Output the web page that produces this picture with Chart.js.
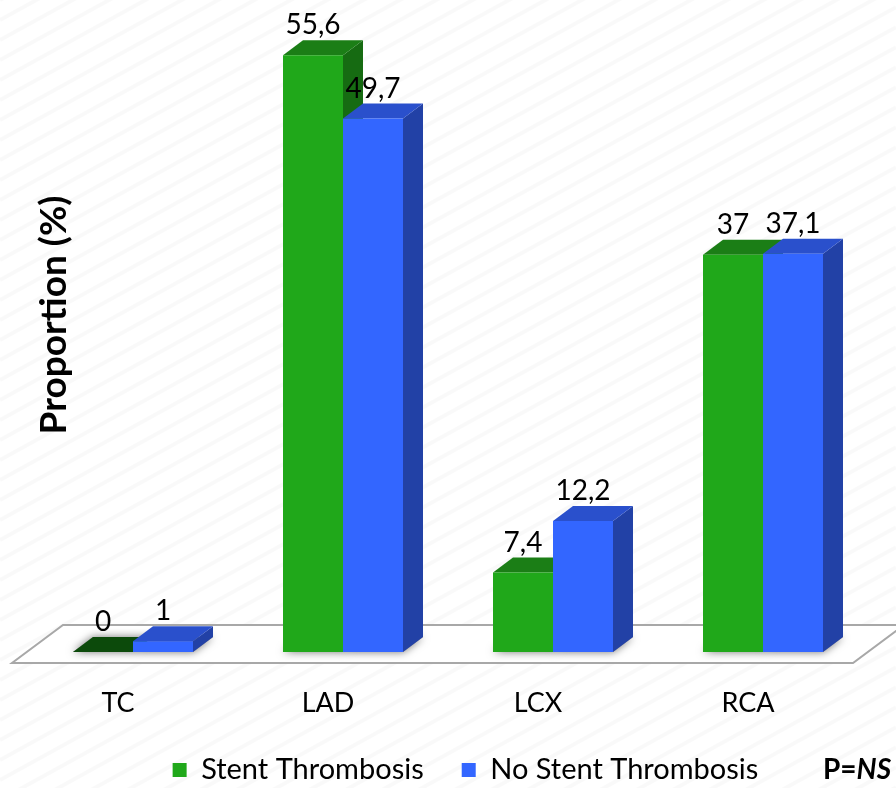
<!DOCTYPE html>
<html><head><meta charset="utf-8">
<script src="https://cdn.jsdelivr.net/npm/chart.js@4/dist/chart.umd.min.js"></script>
<style>html,body{margin:0;padding:0;background:#fff;}#wrap{width:896px;height:788px;}</style>
</head><body><div id="wrap"><canvas id="c" width="896" height="788"></canvas></div>
<script>
// ---- data ----
const categories = ['TC', 'LAD', 'LCX', 'RCA'];
const stentThrombosis = [0, 55.6, 7.4, 37];
const noStentThrombosis = [1, 49.7, 12.2, 37.1];
const seriesNames = ['Stent Thrombosis', 'No Stent Thrombosis'];
const yTitle = 'Proportion (%)';
const pLabel = ['P=', 'NS'];

// ---- styles ----
const FONT = 'Lato';
const frontColors = ['#20A81A', '#3366FF'];
const topColors = ['#1B7E16', '#2A50CC'];
const zeroTopColors = ['#0C4A0B', '#1E3C99'];
const sideColors = ['#166B12', '#2241A6'];
const DX = 20, DY = 15;

const fmt = v => String(v).replace('.', ',');

const plugin3d = {
  id: 'bars3d',
  beforeDraw(chart) {
    const {ctx, width: W, height: H} = chart;
    ctx.save();
    ctx.fillStyle = '#fff';
    ctx.fillRect(0, 0, W, H);
    ctx.strokeStyle = 'rgba(0,0,0,0.022)';
    ctx.lineWidth = 4;
    for (let k = 0; k < H + W * 0.6; k += 20) {
      ctx.beginPath(); ctx.moveTo(0, k); ctx.lineTo(W, k - W * 0.55); ctx.stroke();
    }
    ctx.restore();
  },
  beforeDatasetsDraw(chart) {
    const {ctx, chartArea: ca} = chart;
    const base = chart.scales.y.getPixelForValue(0);
    // floor
    const fy = base + 11, by = base - 27;
    const lf = ca.left - 16, rf = ca.right - 15, sh = 51;
    ctx.save();
    ctx.beginPath();
    ctx.moveTo(lf, fy); ctx.lineTo(rf, fy); ctx.lineTo(rf + sh, by); ctx.lineTo(lf + sh, by); ctx.closePath();
    ctx.fillStyle = '#fff'; ctx.fill();
    ctx.strokeStyle = '#A8A8A8'; ctx.lineWidth = 2; ctx.stroke();
    ctx.restore();
    // shadows
    chart.data.datasets.forEach((ds, di) => {
      chart.getDatasetMeta(di).data.forEach((el) => {
        const x0 = el.x - el.width / 2, x1 = el.x + el.width / 2;
        ctx.save();
        ctx.shadowColor = 'rgba(0,0,0,0.55)';
        ctx.shadowBlur = 9;
        ctx.fillStyle = '#888';
        ctx.beginPath();
        ctx.moveTo(x0, base); ctx.lineTo(x1, base); ctx.lineTo(x1 + DX, base - DY); ctx.lineTo(x0 + DX, base - DY); ctx.closePath();
        ctx.fill();
        ctx.restore();
      });
    });
    // sides and tops, category by category
    for (let i = 0; i < categories.length; i++) {
      chart.data.datasets.forEach((ds, di) => {
        const el = chart.getDatasetMeta(di).data[i];
        const x0 = el.x - el.width / 2, x1 = el.x + el.width / 2, y = el.y;
        ctx.save();
        ctx.fillStyle = sideColors[di];
        ctx.beginPath();
        ctx.moveTo(x1, y); ctx.lineTo(x1 + DX, y - DY); ctx.lineTo(x1 + DX, base - DY); ctx.lineTo(x1, base); ctx.closePath();
        ctx.fill();
        ctx.fillStyle = ds.data[i] === 0 ? zeroTopColors[di] : topColors[di];
        ctx.beginPath();
        ctx.moveTo(x0, y); ctx.lineTo(x1, y); ctx.lineTo(x1 + DX, y - DY); ctx.lineTo(x0 + DX, y - DY); ctx.closePath();
        ctx.fill();
        ctx.restore();
      });
    }
  },
  afterDatasetsDraw(chart) {
    const {ctx} = chart;
    ctx.save();
    ctx.fillStyle = '#000';
    ctx.font = `28px ${FONT}`;
    ctx.textAlign = 'center';
    ctx.textBaseline = 'alphabetic';
    chart.data.datasets.forEach((ds, di) => {
      chart.getDatasetMeta(di).data.forEach((el, i) => {
        ctx.fillText(fmt(ds.data[i]), el.x, el.y - DY - 6);
      });
    });
    // y title
    ctx.save();
    ctx.translate(54, 315);
    ctx.rotate(-Math.PI / 2);
    ctx.font = `bold 37px ${FONT}`;
    ctx.textBaseline = 'middle';
    ctx.fillText(yTitle, 0, 0);
    ctx.restore();
    // P = NS
    ctx.textAlign = 'left';
    ctx.textBaseline = 'middle';
    ctx.font = `bold 28px ${FONT}`;
    const px = 823;
    ctx.fillText(pLabel[0], px, 770);
    const w = ctx.measureText(pLabel[0]).width;
    ctx.font = `italic bold 28px ${FONT}`;
    ctx.fillText(pLabel[1], px + w, 770);
    ctx.restore();
  }
};

new Chart(document.getElementById('c'), {
  type: 'bar',
  data: {
    labels: categories,
    datasets: [
      {label: seriesNames[0], data: stentThrombosis, backgroundColor: frontColors[0], borderWidth: 0},
      {label: seriesNames[1], data: noStentThrombosis, backgroundColor: frontColors[1], borderWidth: 0}
    ]
  },
  options: {
    responsive: false,
    animation: false,
    devicePixelRatio: 1,
    categoryPercentage: 120 / 210,
    barPercentage: 1,
    layout: {padding: {left: 28, right: -7, top: 8, bottom: 0}},
    plugins: {
      legend: {
        position: 'bottom',
        maxHeight: 70.5,
        labels: {boxWidth: 14, boxHeight: 14, padding: 38, color: '#000', font: {family: FONT, size: 29}}
      },
      tooltip: {enabled: false}
    },
    scales: {
      x: {
        ticks: {padding: 35, labelOffset: -15, color: '#000', font: {family: FONT, size: 27}},
        grid: {display: false, drawTicks: false},
        border: {display: false},
        afterFit: s => { s.height = 65.5; }
      },
      y: {
        position: 'right',
        min: 0, max: 60,
        ticks: {display: false},
        grid: {display: false, drawTicks: false},
        border: {display: false},
        afterFit: s => { s.width = 35; }
      }
    }
  },
  plugins: [plugin3d]
});
</script></body></html>
